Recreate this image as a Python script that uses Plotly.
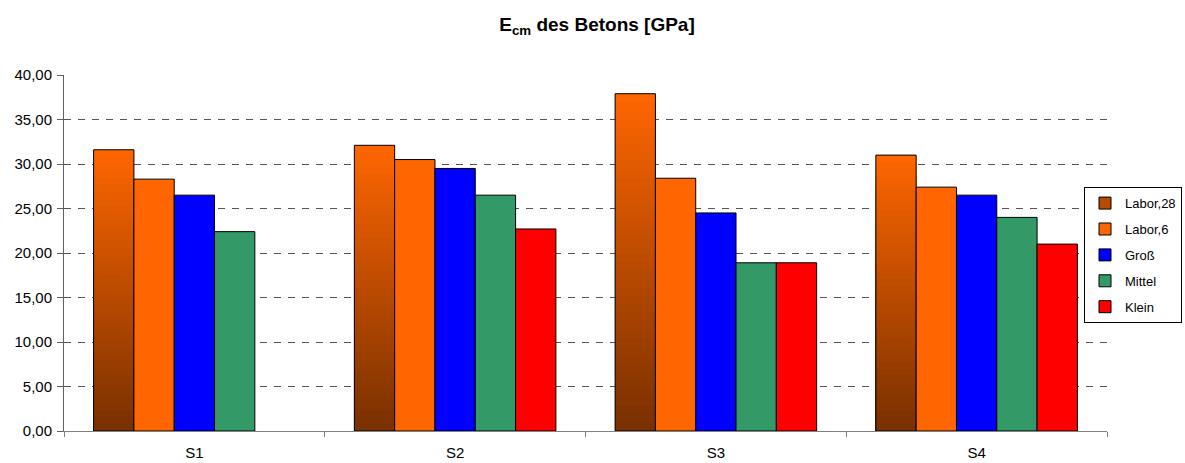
import plotly.graph_objects as go

categories = ["S1", "S2", "S3", "S4"]
labor28 = [31.6, 32.1, 37.9, 31.0]
labor6 = [28.3, 30.5, 28.4, 27.4]
gross = [26.5, 29.5, 24.5, 26.5]
mittel = [22.4, 26.5, 18.9, 24.0]
klein = [None, 22.7, 18.9, 21.0]

fig = go.Figure()

# Gradient for Labor,28: nested bars (tallest first) sharing one offset group
N = 40
top_rgb = (255, 102, 0)
bot_rgb = (120, 48, 0)
for k in range(N):
    frac = (N - k) / N
    t = (N - k - 0.5) / N
    c = tuple(int(round(bot_rgb[i] + (top_rgb[i] - bot_rgb[i]) * t)) for i in range(3))
    fig.add_trace(go.Bar(
        x=categories,
        y=[v * frac for v in labor28],
        offsetgroup="L28",
        marker=dict(color="rgb(%d,%d,%d)" % c, line=dict(width=0)),
        showlegend=False, hoverinfo="skip",
    ))
# outline for Labor,28
fig.add_trace(go.Bar(
    x=categories, y=labor28, offsetgroup="L28", name="Labor,28",
    marker=dict(color="rgba(0,0,0,0)", line=dict(color="black", width=1)),
    showlegend=False,
))
# legend entry for Labor,28
fig.add_trace(go.Bar(
    x=categories, y=[None] * 4, offsetgroup="L28", name="Labor,28",
    legendgroup="a",
    marker=dict(color="#B84A00", line=dict(color="black", width=1)),
))

series = [
    ("Labor,6", labor6, "#FF6600", "L6", "b"),
    ("Groß", gross, "#0000FF", "G", "c"),
    ("Mittel", mittel, "#339966", "M", "d"),
    ("Klein", klein, "#FF0000", "K", "e"),
]
for name, vals, col, og, grp in series:
    fig.add_trace(go.Bar(
        x=categories, y=vals, name=name, offsetgroup=og, legendgroup=grp,
        marker=dict(color=col, line=dict(color="black", width=1)),
    ))

L, R, T, B = 64, 78, 75, 32
pw = 1185 - L - R

fig.update_layout(
    width=1185, height=463,
    margin=dict(l=L, r=R, t=T, b=B, autoexpand=False),
    paper_bgcolor="white", plot_bgcolor="white",
    barmode="group", bargap=0.227, bargroupgap=0,
    separators=",.",
    font=dict(family="Liberation Sans, Arial, sans-serif", size=15, color="black"),
    title=dict(
        text="<b>E<sub>cm</sub> des Betons [GPa]</b>",
        x=597 / 1185, xref="container", xanchor="center",
        y=1 - 24 / 463, yref="container", yanchor="middle",
        font=dict(size=19, color="black"),
    ),
    legend=dict(
        x=(1182 - L) / pw, xanchor="right", y=0.685, yanchor="top",
        bgcolor="white", bordercolor="black", borderwidth=1,
        font=dict(size=13), traceorder="grouped",
        itemwidth=30, tracegroupgap=6,
    ),
    xaxis=dict(
        type="category", tickson="boundaries",
        showline=True, linecolor="#808080", linewidth=1,
        ticks="outside", ticklen=5, tickcolor="#808080",
        showgrid=False, tickfont=dict(size=15), ticklabelstandoff=8,
    ),
    yaxis=dict(
        range=[0, 40], dtick=5, tickformat=".2f",
        showline=True, linecolor="#606060", linewidth=1,
        ticks="outside", ticklen=6, tickcolor="#606060",
        showgrid=True, gridcolor="#555555", gridwidth=1, griddash="7px,7px",
        zeroline=False, tickfont=dict(size=15), ticklabelstandoff=2,
    ),
)

fig.write_html("out.html", config={"displayModeBar": False},
               post_script="document.body.style.margin='0';")
